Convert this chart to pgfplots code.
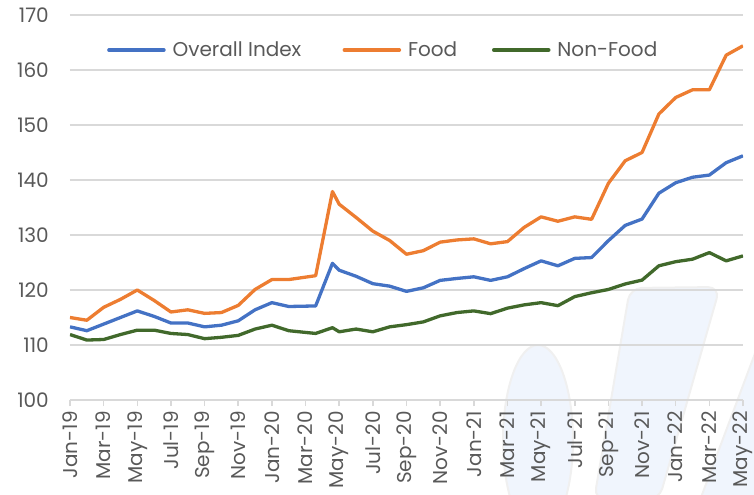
\documentclass[border=0pt]{standalone}
\usepackage{pgfplots}
\pgfplotsset{compat=1.18}
\usepackage{fontspec}
\setmainfont{Poppins}
\definecolor{cblue}{HTML}{4472C4}
\definecolor{corange}{HTML}{ED7D31}
\definecolor{cgreen}{HTML}{41692B}
\definecolor{ctext}{HTML}{595959}
\definecolor{cgrid}{HTML}{D9D9D9}
\definecolor{wm}{HTML}{F0F5FD}
\definecolor{wmline}{HTML}{F0F0F0}

\pgfplotstableread{
x overall food nonfood
0 113.3 115.0 111.9
1 112.6 114.5 110.9
2 113.8 116.85 111.0
3 115.0 118.3 111.9
4 116.2 120.0 112.7
5 115.2 118.1 112.7
6 114.0 116.0 112.1
7 114.0 116.4 111.9
8 113.3 115.75 111.15
9 113.6 115.9 111.4
10 114.4 117.2 111.75
11 116.4 120.1 112.9
12 117.7 121.9 113.6
13 117.0 121.9 112.6
14.6 117.1 122.6 112.1
15.6 124.85 137.9 113.15
16 123.6 135.6 112.4
17 122.5 133.2 112.9
18 121.15 130.7 112.4
19 120.7 129.0 113.3
20 119.75 126.5 113.7
21 120.4 127.15 114.2
22 121.75 128.7 115.3
23 122.1 129.1 115.9
24 122.4 129.3 116.2
25 121.75 128.4 115.7
26 122.4 128.8 116.7
27 123.9 131.4 117.3
28 125.3 133.3 117.7
29 124.4 132.5 117.15
30 125.75 133.3 118.8
31 125.9 132.85 119.5
32 128.97 139.4 120.1
33 131.75 143.5 121.1
34 132.9 145.0 121.8
35 137.6 152.0 124.4
36 139.5 155.0 125.15
37 140.5 156.4 125.6
38 140.9 156.4 126.8
39 143.15 162.7 125.3
40 144.4 164.4 126.2
}\datatable

\begin{document}
\begin{tikzpicture}
\useasboundingbox (-70bp,-95bp) rectangle (684bp,400bp);
\begin{scope}
\clip (-70bp,-95bp) rectangle (684bp,400bp);
\filldraw[fill=wm, draw=wmline, line width=2bp] (468bp,-40bp) ellipse [x radius=35bp, y radius=95bp];
\filldraw[fill=wm, draw=wmline, line width=2bp, rounded corners=12bp] (560bp,112bp) -- (650bp,113bp) -- (589bp,-100bp) -- (524bp,-100bp) -- cycle;
\filldraw[fill=wm, draw=wmline, line width=2bp] (690bp,60bp) -- (690bp,-100bp) -- (630bp,-100bp) -- cycle;
\end{scope}
\begin{axis}[
  at={(0bp,0bp)}, anchor=south west,
  width=673bp, height=385bp, scale only axis,
  xmin=0, xmax=40, ymin=100, ymax=170,
  xtick={0,2,...,40},
  xticklabels={Jan-19,Mar-19,May-19,Jul-19,Sep-19,Nov-19,Jan-20,Mar-20,May-20,Jul-20,Sep-20,Nov-20,Jan-21,Mar-21,May-21,Jul-21,Sep-21,Nov-21,Jan-22,Mar-22,May-22},
  ytick={100,110,...,170},
  ymajorgrids,
  major grid style={cgrid, line width=1.5bp},
  axis x line*=bottom,
  axis y line*=left,
  x axis line style={cgrid, line width=1.5bp},
  y axis line style={draw=none},
  xtick align=outside,
  major tick length=6bp,
  xtick style={cgrid, line width=1.5bp},
  ytick style={draw=none},
  /pgf/number format/assume math mode=true,
  tick label style={font=\fontsize{20bp}{24bp}\selectfont, text=ctext},
  yticklabel style={anchor=east, inner sep=0pt, xshift=-21bp},
  xticklabel style={yshift=-5bp, rotate=90, anchor=east, inner sep=0pt},
  legend columns=3,
  legend style={at={(0.055,0.909)}, anchor=west, draw=none, fill=none, inner sep=0pt,
    font=\fontsize{20bp}{24bp}\selectfont, text=ctext,
    nodes={inner sep=0pt}},
  legend cell align=left,
  legend image code/.code={\draw[#1, line width=3.5bp, line cap=round] (0bp,0bp) -- (55bp,0bp); \path (62bp,0bp);},
  every axis plot/.append style={line width=3.3bp, line join=round},
]
\addplot[cblue] table[x=x, y=overall] {\datatable};
\addlegendentry{\makebox[170bp][l]{Overall Index}}
\addplot[corange] table[x=x, y=food] {\datatable};
\addlegendentry{\makebox[84bp][l]{Food}}
\addplot[cgreen] table[x=x, y=nonfood] {\datatable};
\addlegendentry{Non-Food}
\end{axis}
\end{tikzpicture}
\end{document}
